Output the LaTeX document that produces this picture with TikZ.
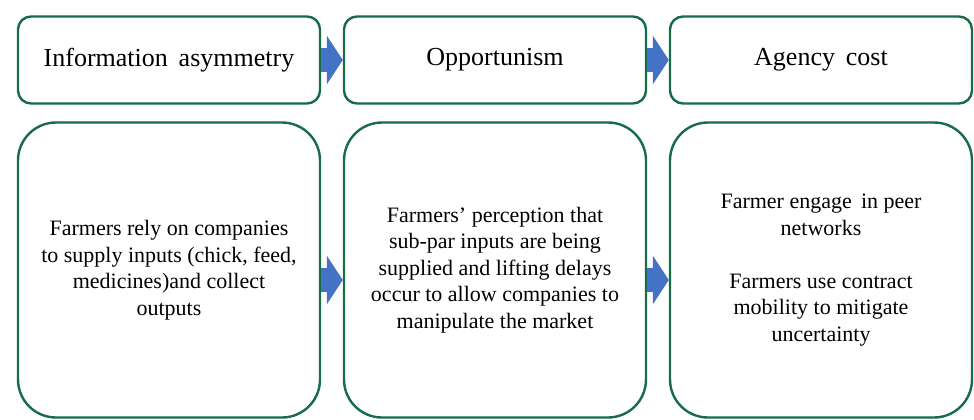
\documentclass[tikz,border=0pt]{standalone}
\usepackage{fontspec}
\setmainfont{Liberation Serif}
\usepackage{tikz}
\usetikzlibrary{arrows.meta}
\definecolor{boxgreen}{RGB}{24,108,72}
\definecolor{arrowblue}{RGB}{68,114,196}
\tikzset{
  headbox/.style={draw=boxgreen, line width=2.4pt, fill=white, rounded corners=13pt,
    minimum width=302pt, minimum height=87pt, inner sep=0pt,
    font=\fontsize{26}{30}\selectfont},
  bodybox/.style={draw=boxgreen, line width=2.4pt, fill=white, rounded corners=38pt,
    minimum width=302pt, minimum height=295pt, inner sep=0pt, align=center,
    font=\fontsize{22}{26.5}\selectfont},
  blockarrow/.style={color=arrowblue, line width=24pt,
    -{Triangle[length=16pt,width=48pt]}},
}

\begin{document}
\begin{tikzpicture}[x=1pt, y=-1pt]
  \def\xsep{326}
  \def\xo{169}
  \useasboundingbox (0,0) rectangle (974,420);

  \node[headbox] (t1) at ({\xo+0*\xsep}, 60) {Information\, asymmetry};
  \node[headbox] (t2) at ({\xo+1*\xsep}, 60) {Opportunism};
  \node[headbox] (t3) at ({\xo+2*\xsep}, 60) {Agency\, cost};

  \node[bodybox] (b1) at ({\xo+0*\xsep}, 270) {Farmers rely on companies\\
    to supply inputs (chick, feed,\\ medicines)and collect\\ outputs};
  \node[bodybox] (b2) at ({\xo+1*\xsep}, 270) {Farmers’ perception that\\
    sub-par inputs are being\\ supplied and lifting delays\\
    occur to allow companies to\\ manipulate the market};
  \node[bodybox] (b3) at ({\xo+2*\xsep}, 270) {Farmer engage\, in peer\\
    networks\\[26.5pt] Farmers use contract\\ mobility to mitigate\\ uncertainty};

  \draw[blockarrow] (t1) -- (t2);
  \draw[blockarrow] (t2) -- (t3);

  \draw[blockarrow] ([yshift=-10pt]b1.east) -- ([yshift=-10pt]b2.west);
  \draw[blockarrow] ([yshift=-10pt]b2.east) -- ([yshift=-10pt]b3.west);
\end{tikzpicture}
\end{document}
